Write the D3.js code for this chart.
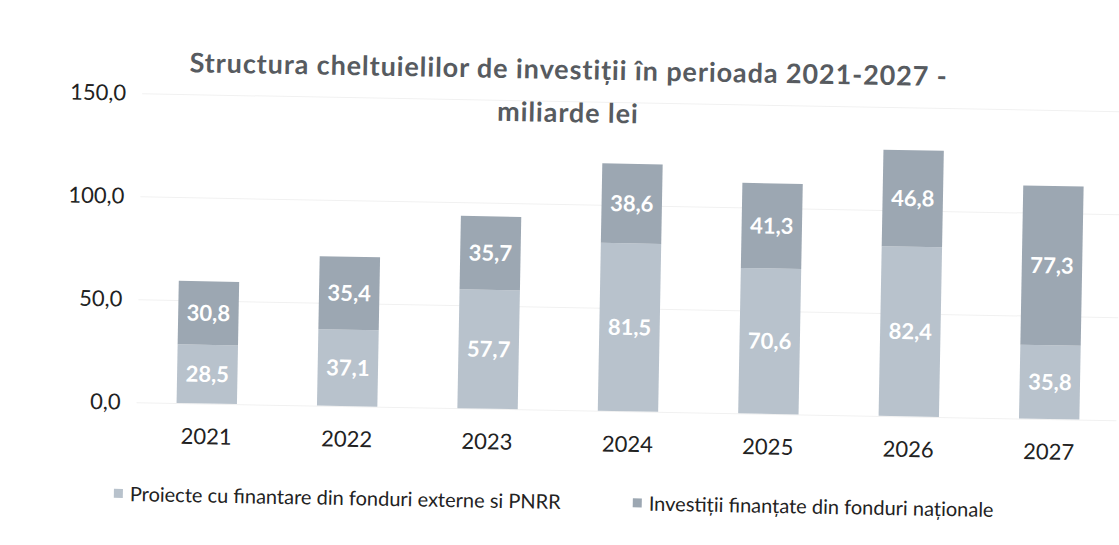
<!DOCTYPE html>
<html>
<head>
<meta charset="utf-8">
<script src="https://cdn.jsdelivr.net/npm/d3@7"></script>
<style>
  body { margin: 0; background: #ffffff; }
  text { font-family: Lato, "Open Sans", sans-serif; }
</style>
</head>
<body>
<div id="chart"></div>
<script>
// data (miliarde lei)
const years = ["2021", "2022", "2023", "2024", "2025", "2026", "2027"];
const externe = [28.5, 37.1, 57.7, 81.5, 70.6, 82.4, 35.8];
const nationale = [30.8, 35.4, 35.7, 38.6, 41.3, 46.8, 77.3];
const seriesNames = ["Proiecte cu finantare din fonduri externe si PNRR", "Investiții finanțate din fonduri naționale"];
const yTicks = [0, 50, 100, 150];

function drawChart() {
    let win_width = 1119, win_height = 545;
    let colors = ["#b8c2cc", "#9ca7b2"];

    let svg = d3.select("#chart")
        .append("svg")
        .attr("width", win_width)
        .attr("height", win_height);

    // the scan is slightly tilted, keep that
    let g = svg.append("g")
        .attr("transform", "rotate(1.05, 560, 272)");

    let ro = d3.formatLocale({decimal: ",", thousands: ".", grouping: [3], currency: ["", " lei"]});
    let fmt = ro.format(".1f");

    let x = d3.scaleBand().domain(years).range([139, 1122]).paddingInner(0.57).paddingOuter(0.285);
    let y = d3.scaleLinear().domain([0, 150]).range([410, 101]);

    // gridlines (very faint on the scan)
    g.append("g")
        .attr("transform", "translate(139,0)")
        .call(d3.axisLeft(y).tickValues(yTicks).tickSize(-980).tickFormat(""))
        .call(s => s.select(".domain").remove())
        .call(s => s.selectAll("line").attr("stroke", "#f1f1f1"));

    // y labels
    g.append("g")
        .attr("transform", "translate(123,0)")
        .call(d3.axisLeft(y).tickValues(yTicks).tickSize(0).tickPadding(0).tickFormat(fmt))
        .call(s => s.select(".domain").remove())
        .call(s => s.selectAll("text").attr("font-size", 22).attr("fill", "#222"));

    // stacked bars
    let rows = years.map((yr, i) => ({year: yr, a: externe[i], b: nationale[i]}));
    let stack = d3.stack().keys(["a", "b"])(rows);

    let layers = g.selectAll(".layer")
        .data(stack)
        .join("g")
        .attr("fill", (d, i) => colors[i]);

    layers.selectAll("rect")
        .data(d => d)
        .join("rect")
        .attr("x", d => x(d.data.year))
        .attr("width", x.bandwidth())
        .attr("y", d => y(d[1]))
        .attr("height", d => y(d[0]) - y(d[1]));

    layers.selectAll("text")
        .data(d => d)
        .join("text")
        .attr("x", d => x(d.data.year) + x.bandwidth() / 2)
        .attr("y", d => (y(d[0]) + y(d[1])) / 2)
        .attr("dy", "0.35em")
        .attr("text-anchor", "middle")
        .attr("font-size", 22)
        .attr("font-weight", "bold")
        .attr("fill", "#ffffff")
        .text(d => fmt(d[1] - d[0]));

    // x labels
    g.append("g")
        .attr("transform", "translate(0,410)")
        .call(d3.axisBottom(x).tickSize(0).tickPadding(25))
        .call(s => s.select(".domain").remove())
        .call(s => s.selectAll("text").attr("font-size", 22).attr("fill", "#222"));

    // title, two lines
    let title = g.append("text")
        .attr("text-anchor", "middle")
        .attr("font-size", 27)
        .attr("letter-spacing", 0.9)
        .attr("font-weight", "bold")
        .attr("fill", "#575b60");
    title.append("tspan").attr("x", 565).attr("y", 79).text("Structura cheltuielilor de investiții în perioada 2021-2027 -");
    title.append("tspan").attr("x", 565).attr("y", 122).text("miliarde lei");

    // legend
    let legX = [118, 637];
    let leg = g.selectAll(".leg")
        .data(seriesNames)
        .join("g")
        .attr("transform", (d, i) => "translate(" + legX[i] + ",502)");
    leg.append("rect")
        .attr("x", 0).attr("y", -5)
        .attr("width", 9).attr("height", 9)
        .attr("fill", (d, i) => colors[i]);
    leg.append("text")
        .attr("x", 16)
        .attr("dy", "0.35em")
        .attr("font-size", 20)
        .attr("fill", "#222")
        .text(d => d);
}

drawChart();
</script>
</body>
</html>
